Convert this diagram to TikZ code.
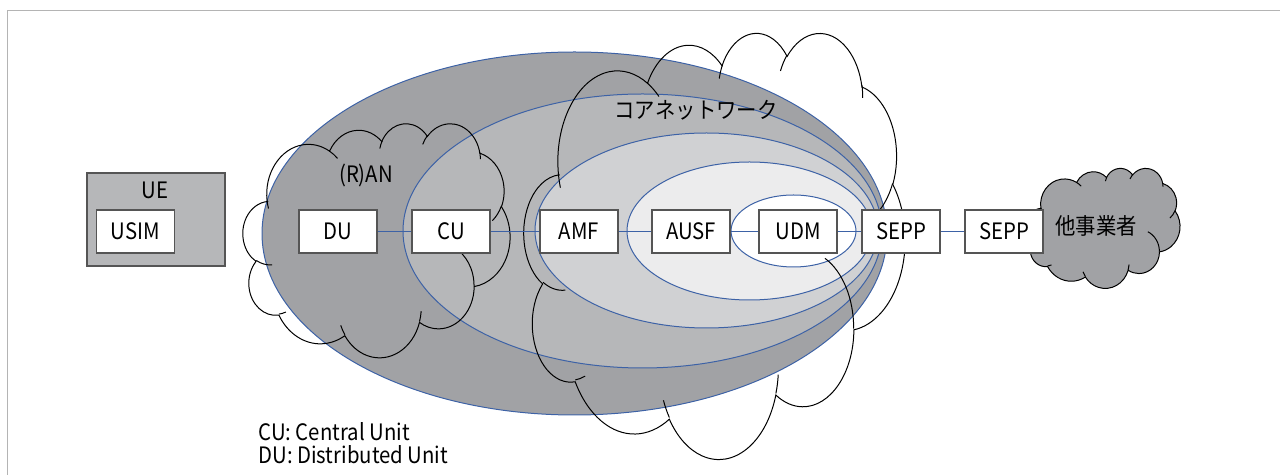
\documentclass[tikz,border=0pt]{standalone}
\usepackage{fontspec}
\setmainfont{Noto Sans CJK JP}[FakeStretch=0.9]

\definecolor{ringblue}{HTML}{3D62A6}
\definecolor{shadeA}{HTML}{A1A2A5}
\definecolor{shadeB}{HTML}{B6B7B9}
\definecolor{shadeC}{HTML}{D0D1D3}
\definecolor{shadeD}{HTML}{ECECED}
\definecolor{framegray}{HTML}{B4B4B4}
\definecolor{boxedge}{HTML}{555555}

\tikzset{
  nf/.style={draw=boxedge, fill=white, line width=0.65pt, minimum width=39pt, minimum height=21.5pt, inner sep=0pt},
  ring/.style={draw=ringblue, line width=0.5pt},
  link/.style={ringblue, line width=0.5pt},
  cloudline/.style={draw=black, line width=0.5pt},
}

% cloud lobes: radii, start angle, sweep (angles measured on the drawing)
\newcommand\cloudang[4]{%
  \pgfmathsetmacro\cloudA{atan2((#1)*sin(#3),(#2)*cos(#3))}%
  \pgfmathsetmacro\cloudB{atan2((#1)*sin((#3)+(#4)),(#2)*cos((#3)+(#4)))}%
  \pgfmathsetmacro\cloudD{mod(\cloudB-\cloudA+720,360)}%
  \global\let\cloudA\cloudA\global\let\cloudD\cloudD}
\newcommand\carc[4]{\pgfextra{\cloudang{#1}{#2}{#3}{#4}} arc[start angle=\cloudA, delta angle=\cloudD, x radius=#1, y radius=#2]}
\newcommand\pptcloud[5]{%
  \begin{scope}[shift={(#1,#2)}, xscale=#3/43.2, yscale=#4/43.2]
    \path[cloudline, fill=#5] (3.9,14.37)
      \carc{6.753}{9.19}{-190.4875}{123.7805}
      \carc{5.333}{7.267}{-144.1024}{89.9452}
      \carc{4.365}{5.945}{-145.8079}{99.723}
      \carc{4.857}{6.595}{-130.9861}{117.2417}
      \carc{5.333}{7.273}{-78.7089}{109.0269}
      \carc{6.775}{9.22}{-46.2673}{130.269}
      \carc{5.785}{7.867}{0.625}{114.0333}
      \carc{6.752}{9.215}{22.4516}{115.1726}
      \carc{7.72}{10.543}{66.2426}{75.711}
      \carc{4.36}{5.918}{-274.9421}{146.7356}
      \carc{4.345}{5.945}{-246.8285}{153.6194} -- cycle;
    \draw[cloudline]
      (4.693,26.177) \carc{4.345}{5.945}{86.742}{26.4295}
      (6.928,34.899) \carc{4.36}{5.918}{73.6105}{11.4475}
      (16.478,39.09) \carc{6.752}{9.215}{137.6242}{14.0811}
      (28.827,34.751) \carc{6.752}{9.215}{6.4533}{15.9984}
      (34.129,22.954) \carc{5.785}{7.867}{-70.2924}{70.9174}
      (41.798,15.354) \carc{5.333}{7.273}{30.318}{27.7515}
      (38.324,5.426) \carc{4.857}{6.595}{-13.7443}{14.8589}
      (29.078,3.952) \carc{4.857}{6.595}{-149.1815}{18.1954}
      (22.141,4.72) \carc{4.365}{5.945}{-163.4943}{17.6864}
      (14,5.192) \carc{6.753}{9.19}{-66.707}{12.3194}
      (4.127,15.789) \carc{6.753}{9.19}{157.6544}{11.8582};
  \end{scope}}

\begin{document}
\begin{tikzpicture}[x=0.5pt, y=-0.5pt, font=\fontsize{11.3pt}{11.6pt}\selectfont]
  \useasboundingbox (0,0) rectangle (1280,475);
  \draw[framegray, line width=0.8pt] (1280,10.7) -- (7.3,10.7) -- (7.3,475);

  % nested rings of the network
  \draw[ring, fill=shadeA] (574.5,233.5) ellipse [x radius=312.5, y radius=181.5];
  \draw[ring, fill=shadeB] (642.5,231) ellipse [x radius=239.5, y radius=137];
  \draw[ring, fill=shadeC] (706.5,230.5) ellipse [x radius=171.5, y radius=97.5];
  \draw[ring, fill=shadeD] (749.5,231) ellipse [x radius=122.5, y radius=69];
  \draw[ring, fill=white] (793.5,231) ellipse [x radius=62.5, y radius=36];

  % clouds
  \pptcloud{243}{123}{267}{234}{none}
  \pptcloud{524}{32}{381}{426}{none}
  \pptcloud{1027}{168}{153}{120}{shadeA}

  % UE
  \node[draw=boxedge, fill=shadeB, line width=0.65pt, minimum width=69pt, minimum height=46.5pt, inner sep=0pt] (ue) at (156,219.5) {};
  \node (uelbl) at (155,190) {UE};
  \node[nf] (usim) at (135.5,231.5) {USIM};

  % functions
  \node[nf] (du) at (338,231.5) {DU};
  \node[nf] (cu) at (451,231.5) {CU};
  \node[nf] (amf) at (579,231.5) {AMF};
  \node[nf] (ausf) at (691,231.5) {AUSF};
  \node[nf] (udm) at (798,231.5) {UDM};
  \node[nf] (sepp) at (901,231.5) {SEPP};
  \node[nf] (seppb) at (1004,231.5) {SEPP};
  \foreach \a/\b in {du/cu, cu/amf, amf/ausf, ausf/udm, udm/sepp, sepp/seppb}
    \draw[link] (\a) -- (\b);

  \node (ranlbl) at (366,175) {(R)AN};
  \node (corelbl) at (696,110) {コアネットワーク};
  \node (otherlbl) at (1096,226) {他事業者};
  \node[anchor=west, align=left, inner sep=0pt] (legend) at (258,443) {CU: Central Unit\\DU: Distributed Unit};
\end{tikzpicture}
\end{document}
